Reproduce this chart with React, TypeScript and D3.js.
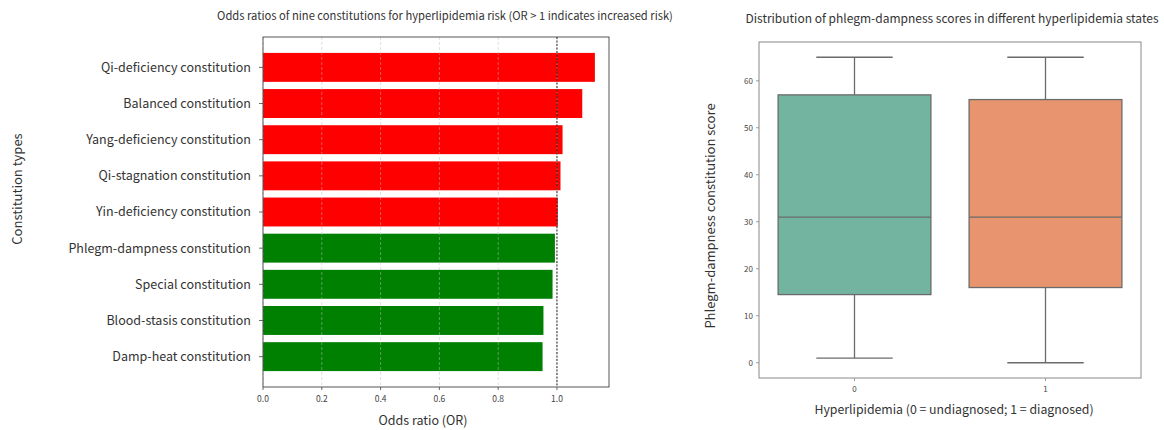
import React from "react";
import * as d3 from "d3";

const constitutions = [
  "Qi-deficiency constitution",
  "Balanced constitution",
  "Yang-deficiency constitution",
  "Qi-stagnation constitution",
  "Yin-deficiency constitution",
  "Phlegm-dampness constitution",
  "Special constitution",
  "Blood-stasis constitution",
  "Damp-heat constitution",
];
const oddsRatios = [1.129, 1.086, 1.019, 1.012, 1.003, 0.993, 0.985, 0.954, 0.951];
const orTicks = [0, 0.2, 0.4, 0.6, 0.8, 1.0];

const groups = ["0", "1"];
const whiskerLow = [1, 0];
const q1 = [14.5, 16];
const median = [31, 31];
const q3 = [57, 56];
const whiskerHigh = [65, 65];
const boxColors = ["#72b4a0", "#e8956f"];
const scoreTicks = [0, 10, 20, 30, 40, 50, 60];

const FONT = "'Noto Sans CJK SC', 'Noto Sans', sans-serif";

export default function App() {
  // Left chart
  const L = { left: 263, right: 609, top: 37, bottom: 387 };
  const x = d3.scaleLinear().domain([0, 1.177]).range([L.left, L.right]);
  const y = d3
    .scaleBand<string>()
    .domain(constitutions)
    .range([L.top, L.bottom])
    .paddingInner(0.2)
    .paddingOuter(0.44);

  // Right chart
  const R = { left: 759, right: 1141, top: 42, bottom: 378 };
  const ys = d3.scaleLinear().domain([-3.25, 68.25]).range([R.bottom, R.top]);
  const xb = d3.scaleBand<string>().domain(groups).range([R.left, R.right]).paddingInner(0.2).paddingOuter(0.1);
  const step = xb.step();
  const boxW = step * 0.8;
  const lineCol = "#6b6b6b";

  return (
    <svg width={1164} height={430} style={{ position: "absolute", left: 0, top: 0, background: "#fff" }} fontFamily={FONT}>
      {/* LEFT CHART */}
      <text x={445} y={20} textAnchor="middle" fontSize={11.2} fill="#333">
        Odds ratios of nine constitutions for hyperlipidemia risk (OR &gt; 1 indicates increased risk)
      </text>
      {constitutions.map((c, i) => (
        <rect
          key={c}
          x={x(0)}
          y={y(c)!}
          width={x(oddsRatios[i]) - x(0)}
          height={y.bandwidth()}
          fill={oddsRatios[i] > 1 ? "#ff0000" : "#008000"}
        />
      ))}
      {orTicks.map((t) => (
        <line key={t} x1={x(t)} x2={x(t)} y1={L.top} y2={L.bottom} stroke="#bbb" strokeOpacity={0.6} strokeDasharray="3,2" strokeWidth={0.8} />
      ))}
      <line x1={x(1)} x2={x(1)} y1={L.top} y2={L.bottom} stroke="#222" strokeDasharray="2,1.5" strokeWidth={1} />
      <rect x={L.left} y={L.top} width={L.right - L.left} height={L.bottom - L.top} fill="none" stroke="#444" strokeWidth={0.9} />
      {constitutions.map((c) => {
        const cy = y(c)! + y.bandwidth() / 2;
        return (
          <g key={c}>
            <line x1={L.left - 4} x2={L.left} y1={cy} y2={cy} stroke="#444" strokeWidth={0.8} />
            <text x={251} y={cy} dy="0.35em" textAnchor="end" fontSize={12.5} fill="#333">
              {c}
            </text>
          </g>
        );
      })}
      {orTicks.map((t) => (
        <g key={t}>
          <line x1={x(t)} x2={x(t)} y1={L.bottom} y2={L.bottom + 3} stroke="#444" strokeWidth={0.8} />
          <text x={x(t)} y={402} textAnchor="middle" fontSize={8.5} fill="#444">
            {d3.format(".1f")(t)}
          </text>
        </g>
      ))}
      <text x={423} y={425} textAnchor="middle" fontSize={12.5} fill="#333">
        Odds ratio (OR)
      </text>
      <text transform="translate(22,189) rotate(-90)" textAnchor="middle" fontSize={13} fill="#333">
        Constitution types
      </text>

      {/* RIGHT CHART */}
      <text x={952} y={23} textAnchor="middle" fontSize={12} fill="#333">
        Distribution of phlegm-dampness scores in different hyperlipidemia states
      </text>
      <rect x={R.left} y={R.top} width={R.right - R.left} height={R.bottom - R.top} fill="none" stroke="#888" strokeWidth={1} />
      {groups.map((g, i) => {
        const cx = xb(g)! + xb.bandwidth() / 2;
        const capW = boxW / 2;
        return (
          <g key={g}>
            <line x1={cx} x2={cx} y1={ys(whiskerHigh[i])} y2={ys(q3[i])} stroke={lineCol} strokeWidth={1.3} />
            <line x1={cx} x2={cx} y1={ys(q1[i])} y2={ys(whiskerLow[i])} stroke={lineCol} strokeWidth={1.3} />
            <line x1={cx - capW / 2} x2={cx + capW / 2} y1={ys(whiskerHigh[i])} y2={ys(whiskerHigh[i])} stroke={lineCol} strokeWidth={1.3} />
            <line x1={cx - capW / 2} x2={cx + capW / 2} y1={ys(whiskerLow[i])} y2={ys(whiskerLow[i])} stroke={lineCol} strokeWidth={1.3} />
            <rect x={cx - boxW / 2} y={ys(q3[i])} width={boxW} height={ys(q1[i]) - ys(q3[i])} fill={boxColors[i]} stroke={lineCol} strokeWidth={1.3} />
            <line x1={cx - boxW / 2} x2={cx + boxW / 2} y1={ys(median[i])} y2={ys(median[i])} stroke={lineCol} strokeWidth={1.3} />
            <line x1={cx} x2={cx} y1={R.bottom} y2={R.bottom + 3} stroke="#888" strokeWidth={0.8} />
            <text x={cx} y={392} textAnchor="middle" fontSize={8} fill="#444">
              {g}
            </text>
          </g>
        );
      })}
      {scoreTicks.map((t) => (
        <g key={t}>
          <line x1={R.left - 3} x2={R.left} y1={ys(t)} y2={ys(t)} stroke="#888" strokeWidth={0.8} />
          <text x={R.left - 6} y={ys(t)} dy="0.35em" textAnchor="end" fontSize={8} fill="#444">
            {t}
          </text>
        </g>
      ))}
      <text x={954} y={414} textAnchor="middle" fontSize={12.3} fill="#333">
        Hyperlipidemia (0 = undiagnosed; 1 = diagnosed)
      </text>
      <text transform="translate(715,216) rotate(-90)" textAnchor="middle" fontSize={13} fill="#333">
        Phlegm-dampness constitution score
      </text>
    </svg>
  );
}
